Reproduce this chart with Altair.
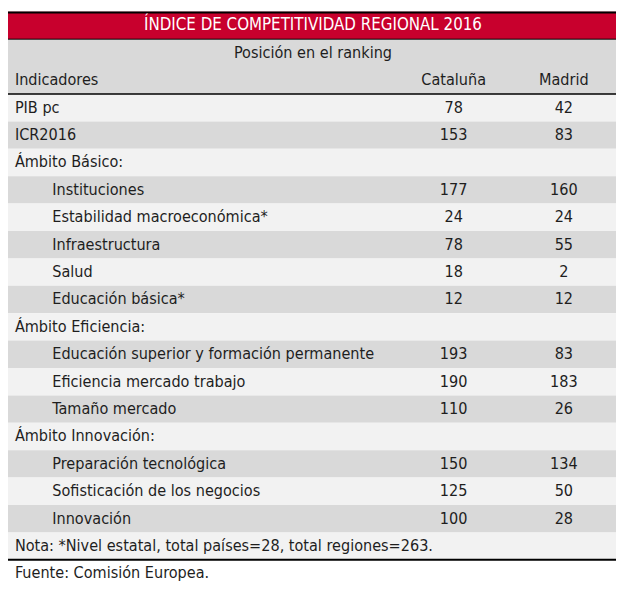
import altair as alt
import pandas as pd

titulo = "ÍNDICE DE COMPETITIVIDAD REGIONAL 2016"
subtitulo = "Posición en el ranking"
cabecera = ["Indicadores", "Cataluña", "Madrid"]
indicadores = [
    "PIB pc", "ICR2016", "Ámbito Básico:", "Instituciones",
    "Estabilidad macroeconómica*", "Infraestructura", "Salud",
    "Educación básica*", "Ámbito Eficiencia:",
    "Educación superior y formación permanente",
    "Eficiencia mercado trabajo", "Tamaño mercado", "Ámbito Innovación:",
    "Preparación tecnológica", "Sofisticación de los negocios", "Innovación",
]
sangria = [0, 0, 0, 1, 1, 1, 1, 1, 0, 1, 1, 1, 0, 1, 1, 1]
cataluna = [78, 153, None, 177, 24, 78, 18, 12, None, 193, 190, 110, None, 150, 125, 100]
madrid = [42, 83, None, 160, 24, 55, 2, 12, None, 83, 183, 26, None, 134, 50, 28]
nota = "Nota: *Nivel estatal, total países=28, total regiones=263."
fuente = "Fuente: Comisión Europea."

W, H = 616, 583
NROWS = 21
FONT = "Liberation Sans Narrow, DejaVu Sans Condensed, Roboto, sans-serif"
RED = "#c8002d"
GRAY = "#d9d9d9"
LIGHT = "#f2f2f2"
TXT = "#1e1e1e"
FS = 16.3
X0, X1 = 3, 621
X_LEFT, X_IND, X_CAT, X_MAD, X_MID = 10, 48, 456, 568, 313

xs = alt.Scale(domain=[X0, X1], range=[0, W], nice=False, zero=False)
ys = alt.Scale(domain=[0, NROWS], range=[0, H], nice=False, zero=False)

# backgrounds
bg = [{"y": 0, "y2": 1, "c": RED}, {"y": 1, "y2": 3, "c": GRAY}]
for i in range(len(indicadores)):
    bg.append({"y": 3 + i, "y2": 4 + i, "c": LIGHT if i % 2 == 0 else GRAY})
n = len(indicadores)
bg.append({"y": 3 + n, "y2": 4 + n, "c": LIGHT})
bg_df = pd.DataFrame(bg)
bg_df["x"] = X0
bg_df["x2"] = X1

rects = alt.Chart(bg_df).mark_rect().encode(
    x=alt.X("x:Q", scale=xs, axis=None),
    x2="x2:Q",
    y=alt.Y("y:Q", scale=ys, axis=None),
    y2="y2:Q",
    color=alt.Color("c:N", scale=None),
)

rules_df = pd.DataFrame([
    {"y": 0.03, "w": 2.0},
    {"y": 1, "w": 1.0},
    {"y": 3, "w": 1.5},
    {"y": 4 + n, "w": 2.0},
])
rules_df["x"] = X0
rules_df["x2"] = X1
rules = alt.Chart(rules_df).mark_rule(color="#000000").encode(
    x=alt.X("x:Q", scale=xs, axis=None),
    x2="x2:Q",
    y=alt.Y("y:Q", scale=ys, axis=None),
    size=alt.Size("w:Q", scale=None),
)

# texts
txt = []
txt.append({"t": titulo, "x": X_MID, "y": 0.5, "a": "center", "c": "#ffffff", "s": 17})
txt.append({"t": subtitulo, "x": X_MID, "y": 1.5, "a": "center", "c": TXT, "s": FS})
txt.append({"t": cabecera[0], "x": X_LEFT, "y": 2.5, "a": "left", "c": TXT, "s": FS})
txt.append({"t": cabecera[1], "x": X_CAT, "y": 2.5, "a": "center", "c": TXT, "s": FS})
txt.append({"t": cabecera[2], "x": X_MAD, "y": 2.5, "a": "center", "c": TXT, "s": FS})
for i, lab in enumerate(indicadores):
    yy = 3.5 + i
    txt.append({"t": lab, "x": X_IND if sangria[i] else X_LEFT, "y": yy, "a": "left", "c": TXT, "s": FS})
    if cataluna[i] is not None:
        txt.append({"t": str(cataluna[i]), "x": X_CAT, "y": yy, "a": "center", "c": TXT, "s": FS})
    if madrid[i] is not None:
        txt.append({"t": str(madrid[i]), "x": X_MAD, "y": yy, "a": "center", "c": TXT, "s": FS})
txt.append({"t": nota, "x": X_LEFT, "y": 3.5 + n, "a": "left", "c": TXT, "s": FS})
txt.append({"t": fuente, "x": X_LEFT, "y": 4.5 + n, "a": "left", "c": TXT, "s": FS})
txt_df = pd.DataFrame(txt)

def text_layer(align):
    d = txt_df[txt_df["a"] == align]
    return alt.Chart(d).mark_text(align=align, baseline="middle", font=FONT).encode(
        x=alt.X("x:Q", scale=xs, axis=None),
        y=alt.Y("y:Q", scale=ys, axis=None),
        text="t:N",
        color=alt.Color("c:N", scale=None),
        size=alt.Size("s:Q", scale=None),
    )

chart = alt.layer(rects, rules, text_layer("left"), text_layer("center")).properties(
    width=W, height=H, padding=0, autosize=alt.AutoSizeParams(type="none")
).configure_view(stroke=None)

chart.save("out.html", embed_options={"renderer": "svg", "actions": False})
